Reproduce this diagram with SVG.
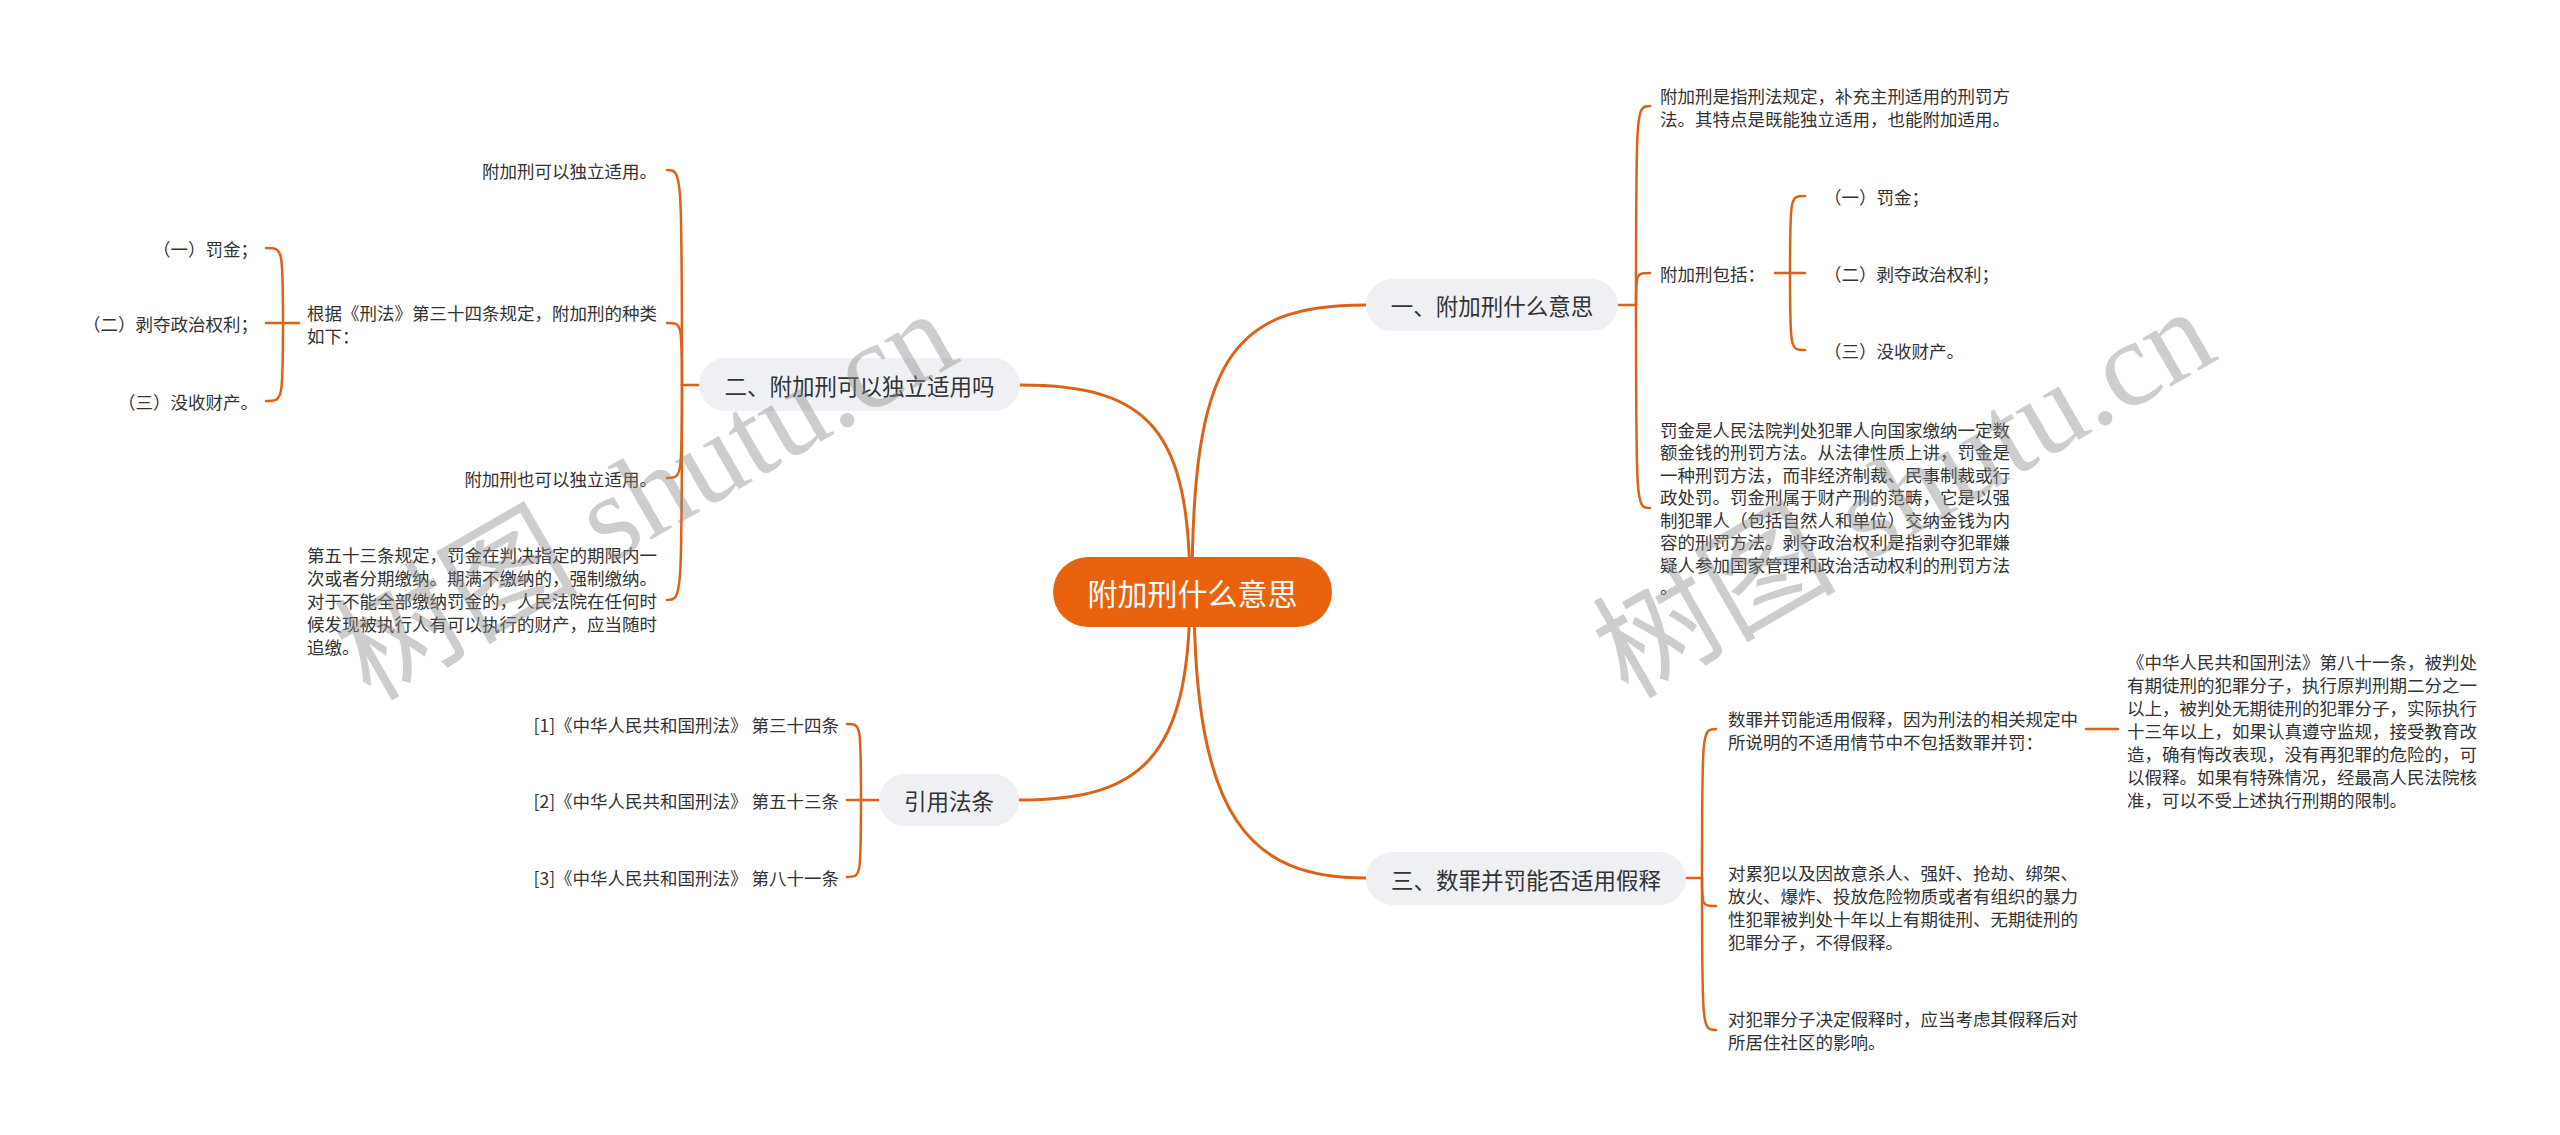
<svg xmlns="http://www.w3.org/2000/svg" width="2560" height="1135" viewBox="0 0 2560 1135">
<style>
text{font-family:"Noto Sans CJK SC","Noto Sans",sans-serif;fill:#333;dominant-baseline:central}
.leaf{font-size:17.5px}
.sub rect{fill:#eef0f3}
.sub text{font-size:22.5px;text-anchor:middle}
.conn path{fill:none;stroke:#dc6218;stroke-width:2.5;stroke-linecap:round}
.conn .main{stroke-width:3}
.wm{font-family:"Liberation Serif","Noto Sans CJK SC",serif;font-size:122px;fill:#888;fill-opacity:0.42;dominant-baseline:auto}
</style>
<rect width="2560" height="1135" fill="#fff"/>
<g id="connectors" class="conn">
<path class="main" d="M1192 592 C1192 360 1230 305 1366 305"/>
<path class="main" d="M1190 592 C1190 430 1150 385 1020 385"/>
<path class="main" d="M1190 592 C1190 760 1140 800 1019 800"/>
<path class="main" d="M1194 592 C1194 820 1250 878 1366 878"/>
<path d="M1618 305 L1636 305"/>
<path d="M1636 305 C1636 106 1636 106 1650 106"/>
<path d="M1636 305 C1636 273 1636 273 1650 273"/>
<path d="M1636 305 C1636 508 1636 508 1650 508"/>
<path d="M1775 273 L1790 273"/>
<path d="M1790 273 C1790 196 1790 196 1805 196"/>
<path d="M1790 273 L1805 273"/>
<path d="M1790 273 C1790 350 1790 350 1805 350"/>
<path d="M699 385 L682 385"/>
<path d="M682 385 C682 170 682 170 667 170"/>
<path d="M682 385 C682 323 682 323 667 323"/>
<path d="M682 385 C682 478 682 478 667 478"/>
<path d="M682 385 C682 600 682 600 667 600"/>
<path d="M299 323 L283 323"/>
<path d="M283 323 C283 248 283 248 266 248"/>
<path d="M283 323 L266 323"/>
<path d="M283 323 C283 401 283 401 266 401"/>
<path d="M879 800 L861 800"/>
<path d="M861 800 C861 724 861 724 847 724"/>
<path d="M861 800 L847 800"/>
<path d="M861 800 C861 877 861 877 847 877"/>
<path d="M1686 878 L1702 878"/>
<path d="M1702 878 C1702 729 1702 729 1716 729"/>
<path d="M1702 878 C1702 906 1702 906 1716 906"/>
<path d="M1702 878 C1702 1030 1702 1030 1716 1030"/>
<path d="M2086 729 L2118 729"/>
</g>
<g id="root">
<rect x="1053" y="557" width="279" height="70" rx="35" fill="#e9630e"/>
<text x="1192.5" y="592" font-size="30" text-anchor="middle" style="fill:#fff">附加刑什么意思</text>
</g>
<g id="n1" class="sub">
<rect x="1366" y="279" width="252" height="52" rx="26"/>
<text x="1492" y="305">一、附加刑什么意思</text>
</g>
<g id="n1a" class="leaf"><text x="1660" y="95">附加刑是指刑法规定，补充主刑适用的刑罚方</text><text x="1660" y="118">法。其特点是既能独立适用，也能附加适用。</text></g>
<g id="n1b" class="leaf"><text x="1660" y="273">附加刑包括：</text></g>
<g id="n1b1" class="leaf"><text x="1824" y="196">（一）罚金；</text></g>
<g id="n1b2" class="leaf"><text x="1824" y="273">（二）剥夺政治权利；</text></g>
<g id="n1b3" class="leaf"><text x="1824" y="350">（三）没收财产。</text></g>
<g id="n1c" class="leaf">
<text x="1660" y="429">罚金是人民法院判处犯罪人向国家缴纳一定数</text>
<text x="1660" y="451.5">额金钱的刑罚方法。从法律性质上讲，罚金是</text>
<text x="1660" y="474">一种刑罚方法，而非经济制裁、民事制裁或行</text>
<text x="1660" y="496.5">政处罚。罚金刑属于财产刑的范畴，它是以强</text>
<text x="1660" y="519">制犯罪人（包括自然人和单位）交纳金钱为内</text>
<text x="1660" y="541.5">容的刑罚方法。剥夺政治权利是指剥夺犯罪嫌</text>
<text x="1660" y="564">疑人参加国家管理和政治活动权利的刑罚方法</text>
<text x="1660" y="586.5">。</text>
</g>
<g id="n2" class="sub">
<rect x="699" y="358" width="321" height="53" rx="26.5"/>
<text x="859.5" y="384.5">二、附加刑可以独立适用吗</text>
</g>
<g id="n2a" class="leaf"><text x="657" y="170" text-anchor="end">附加刑可以独立适用。</text></g>
<g id="n2b" class="leaf"><text x="307" y="312">根据《刑法》第三十四条规定，附加刑的种类</text><text x="307" y="335">如下：</text></g>
<g id="n2b1" class="leaf"><text x="258" y="248" text-anchor="end">（一）罚金；</text></g>
<g id="n2b2" class="leaf"><text x="258" y="323" text-anchor="end">（二）剥夺政治权利；</text></g>
<g id="n2b3" class="leaf"><text x="258" y="401" text-anchor="end">（三）没收财产。</text></g>
<g id="n2c" class="leaf"><text x="657" y="478" text-anchor="end">附加刑也可以独立适用。</text></g>
<g id="n2d" class="leaf">
<text x="307" y="554">第五十三条规定，罚金在判决指定的期限内一</text>
<text x="307" y="577">次或者分期缴纳。期满不缴纳的，强制缴纳。</text>
<text x="307" y="600">对于不能全部缴纳罚金的，人民法院在任何时</text>
<text x="307" y="623">候发现被执行人有可以执行的财产，应当随时</text>
<text x="307" y="646">追缴。</text>
</g>
<g id="n3" class="sub">
<rect x="879" y="774" width="140" height="52" rx="26"/>
<text x="949" y="800">引用法条</text>
</g>
<g id="n3a" class="leaf"><text x="839" y="724" text-anchor="end">[1]《中华人民共和国刑法》 第三十四条</text></g>
<g id="n3b" class="leaf"><text x="839" y="800" text-anchor="end">[2]《中华人民共和国刑法》 第五十三条</text></g>
<g id="n3c" class="leaf"><text x="839" y="877" text-anchor="end">[3]《中华人民共和国刑法》 第八十一条</text></g>
<g id="n4" class="sub">
<rect x="1366" y="852" width="320" height="53" rx="26.5"/>
<text x="1526" y="878.5">三、数罪并罚能否适用假释</text>
</g>
<g id="n4a" class="leaf"><text x="1728" y="718">数罪并罚能适用假释，因为刑法的相关规定中</text><text x="1728" y="741">所说明的不适用情节中不包括数罪并罚：</text></g>
<g id="n4a1" class="leaf">
<text x="2127" y="661">《中华人民共和国刑法》第八十一条，被判处</text>
<text x="2127" y="684">有期徒刑的犯罪分子，执行原判刑期二分之一</text>
<text x="2127" y="707">以上，被判处无期徒刑的犯罪分子，实际执行</text>
<text x="2127" y="730">十三年以上，如果认真遵守监规，接受教育改</text>
<text x="2127" y="753">造，确有悔改表现，没有再犯罪的危险的，可</text>
<text x="2127" y="776">以假释。如果有特殊情况，经最高人民法院核</text>
<text x="2127" y="799">准，可以不受上述执行刑期的限制。</text>
</g>
<g id="n4b" class="leaf">
<text x="1728" y="872">对累犯以及因故意杀人、强奸、抢劫、绑架、</text>
<text x="1728" y="895">放火、爆炸、投放危险物质或者有组织的暴力</text>
<text x="1728" y="918">性犯罪被判处十年以上有期徒刑、无期徒刑的</text>
<text x="1728" y="941">犯罪分子，不得假释。</text>
</g>
<g id="n4c" class="leaf"><text x="1728" y="1018">对犯罪分子决定假释时，应当考虑其假释后对</text><text x="1728" y="1041">所居住社区的影响。</text></g>
<g id="watermarks">
<text class="wm" transform="translate(370 702) rotate(-30)">树图 shutu.cn</text>
<text class="wm" transform="translate(1628 700) rotate(-30)">树图 shutu.cn</text>
</g>
</svg>
